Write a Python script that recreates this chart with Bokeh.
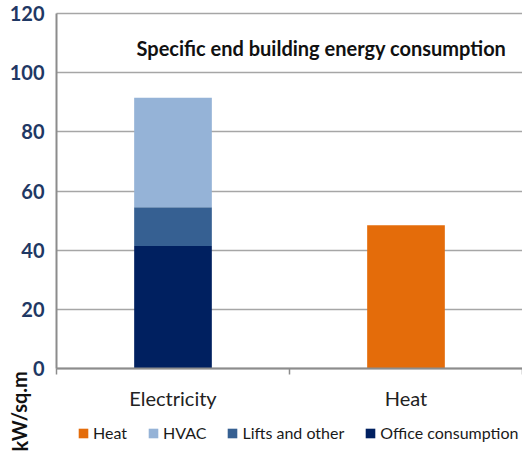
from bokeh.plotting import figure
from bokeh.models import (Range1d, FixedTicker, ColumnDataSource, Label, Legend, LegendItem)
from bokeh.embed import file_html
from bokeh.resources import INLINE

categories = ["Electricity", "Heat"]
office = [41.4, 0.0]
lifts = [13.1, 0.0]
hvac = [37.0, 0.0]
heat = [0.0, 48.4]
y_ticks = [0, 20, 40, 60, 80, 100, 120]

colors = {"office": "#002060", "lifts": "#366092", "hvac": "#95B3D7", "heat": "#E46C0A"}
names = {"office": "Office consumption", "lifts": "Lifts and other", "hvac": "HVAC", "heat": "Heat"}

# layout geometry (pixels)
W, H = 522, 452
AX_LEFT, AX_TOP, AX_BOTTOM = 56, 13, 368
cat_px = (W - AX_LEFT) / len(categories)
y_px = (AX_BOTTOM - AX_TOP) / 120.0

xpos = [i + 0.5 for i in range(len(categories))]
src = ColumnDataSource(dict(x=xpos, office=office, lifts=lifts, hvac=hvac, heat=heat))

p = figure(width=W, height=H, output_backend="svg", toolbar_location=None,
           x_range=Range1d(-AX_LEFT / cat_px, len(categories)),
           y_range=Range1d(-(H - AX_BOTTOM) / y_px, 120 + AX_TOP / y_px),
           min_border=0, min_border_left=0, min_border_right=0,
           min_border_top=0, min_border_bottom=0)
p.outline_line_color = None
p.background_fill_color = "white"
p.border_fill_color = "white"

stack = ["office", "lifts", "hvac", "heat"]
rs = p.vbar_stack(stack, x="x", width=1/3, source=src,
                  color=[colors[s] for s in stack], line_color=None)

# axes placed at data zero
p.xaxis.fixed_location = 0
p.xaxis.bounds = (0, len(categories))
p.xaxis.ticker = FixedTicker(ticks=xpos, minor_ticks=list(range(len(categories) + 1)))
p.xaxis.major_label_overrides = {x: c for x, c in zip(xpos, categories)}
p.xaxis.major_tick_line_color = None
p.xaxis.minor_tick_line_color = "#8C8C8C"
p.xaxis.minor_tick_in = 0
p.xaxis.minor_tick_out = 6
p.xaxis.minor_tick_line_width = 1.5
p.xaxis.axis_line_color = "#8C8C8C"
p.xaxis.axis_line_width = 2
p.xaxis.major_label_text_font = "Lato"
p.xaxis.major_label_text_font_size = "20px"
p.xaxis.major_label_text_color = "#222222"
p.xaxis.major_label_standoff = 11

p.yaxis.fixed_location = 0
p.yaxis.bounds = (0, 120)
p.yaxis.ticker = FixedTicker(ticks=y_ticks)
p.yaxis.major_tick_line_color = None
p.yaxis.minor_tick_line_color = None
p.yaxis.axis_line_color = "#8C8C8C"
p.yaxis.axis_line_width = 2
p.yaxis.major_label_text_font = "Lato"
p.yaxis.major_label_text_font_style = "bold"
p.yaxis.major_label_text_font_size = "20px"
p.yaxis.major_label_text_color = "#1F3864"
p.yaxis.major_label_standoff = 6

p.xgrid.grid_line_color = None
g = p.ygrid[0]
if "cross_bounds" in g.properties():
    g.ticker = FixedTicker(ticks=y_ticks)
    g.cross_bounds = (0, len(categories))
    g.grid_line_color = "#A6A6A6"
    g.grid_line_width = 1.5
    g.level = "underlay"
else:
    g.grid_line_color = None
    p.segment(x0=0, x1=len(categories), y0=y_ticks, y1=y_ticks,
              line_color="#A6A6A6", line_width=1.5, level="underlay")

# chart title inside the plot area
p.add_layout(Label(x=136, y=H - 47, x_units="screen", y_units="screen",
                   text="Specific end building energy consumption",
                   text_font="Lato", text_font_style="bold", text_font_size="20px",
                   text_color="#111111", text_baseline="alphabetic"))

# y-axis title at the bottom left
p.add_layout(Label(x=19, y=1, x_units="screen", y_units="screen",
                   text="kW/sq.m", angle=1.5708,
                   text_font="Lato", text_font_style="bold", text_font_size="20px",
                   text_color="#111111", text_baseline="middle", text_align="left"))

order = ["heat", "hvac", "lifts", "office"]
rmap = dict(zip(stack, rs))
legend = Legend(items=[LegendItem(label=names[k], renderers=[rmap[k]]) for k in order],
                orientation="horizontal", location=(77, 10),
                glyph_width=12, glyph_height=12, label_standoff=4, spacing=20,
                padding=0, margin=0, border_line_color=None, background_fill_alpha=0,
                label_text_font="Lato", label_text_font_size="16px", label_height=12,
                label_text_color="#1A1A1A")
p.add_layout(legend, "center")

open("out.html", "w").write(file_html(p, INLINE))
